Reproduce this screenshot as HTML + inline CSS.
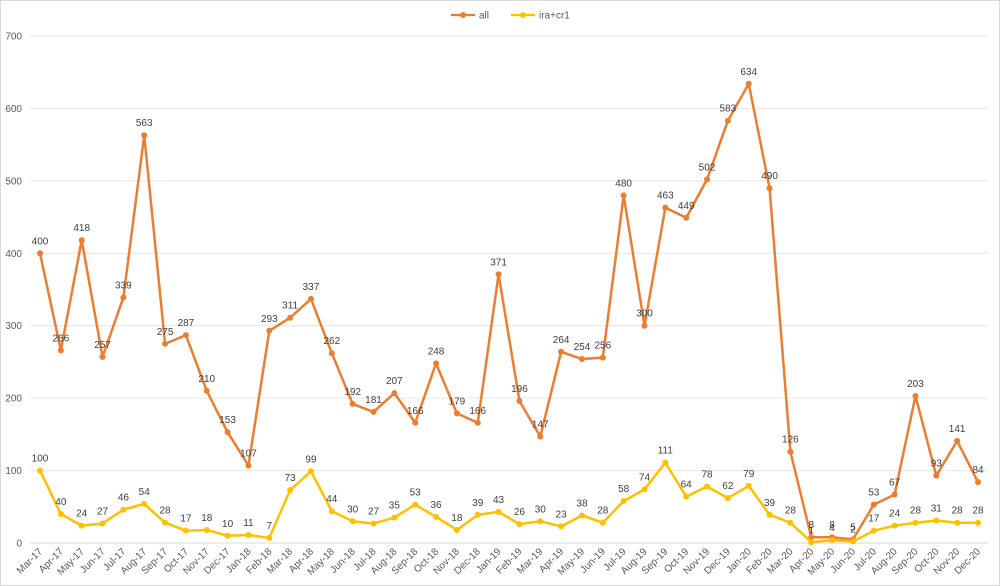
<!DOCTYPE html>
<html><head><meta charset="utf-8">
<style>
body{margin:0;background:#fff;}
svg{display:block;font-family:"Liberation Sans",sans-serif;}
</style></head>
<body>
<svg id="chart" width="1000" height="586" viewBox="0 0 1000 586">
<rect x="0.5" y="0.5" width="999" height="585" fill="#fff" stroke="#d9d9d9"/>
<g id="grid"></g>
<g id="yticks"></g>
<g id="xticks"></g>
<g id="series"></g>
<g>
<g>
<line x1="451" y1="15" x2="475" y2="15" stroke="#ed7d31" stroke-width="2.2"/>
<circle cx="463" cy="15" r="3" fill="#ed7d31"/>
<text x="479" y="18.5" font-size="10" fill="#595959">all</text>
</g>
<g>
<line x1="511" y1="15" x2="535" y2="15" stroke="#ffc000" stroke-width="2.2"/>
<circle cx="523" cy="15" r="3" fill="#ffc000"/>
<text x="539" y="18.5" font-size="10" fill="#595959">ira+cr1</text>
</g>
</g>
</svg>
<script>
const categories=["Mar-17","Apr-17","May-17","Jun-17","Jul-17","Aug-17","Sep-17","Oct-17","Nov-17","Dec-17","Jan-18","Feb-18","Mar-18","Apr-18","May-18","Jun-18","Jul-18","Aug-18","Sep-18","Oct-18","Nov-18","Dec-18","Jan-19","Feb-19","Mar-19","Apr-19","May-19","Jun-19","Jul-19","Aug-19","Sep-19","Oct-19","Nov-19","Dec-19","Jan-20","Feb-20","Mar-20","Apr-20","May-20","Jun-20","Jul-20","Aug-20","Sep-20","Oct-20","Nov-20","Dec-20"];
const allValues=[400,266,418,257,339,563,275,287,210,153,107,293,311,337,262,192,181,207,166,248,179,166,371,196,147,264,254,256,480,300,463,449,502,583,634,490,126,8,8,5,53,67,203,93,141,84];
const iraValues=[100,40,24,27,46,54,28,17,18,10,11,7,73,99,44,30,27,35,53,36,18,39,43,26,30,23,38,28,58,74,111,64,78,62,79,39,28,1,4,2,17,24,28,31,28,28];
const yTicks=[0,100,200,300,400,500,600,700];
const NS="http://www.w3.org/2000/svg";
const x0=40,x1=978,yZero=543,yTop=36,yMax=700;
function xs(i){return x0+(x1-x0)*i/(categories.length-1);}
function ys(v){return yZero-(yZero-yTop)*v/yMax;}
function mk(tag,attrs,parent){const e=document.createElementNS(NS,tag);for(const k in attrs)e.setAttribute(k,attrs[k]);parent.appendChild(e);return e;}
const grid=document.getElementById('grid'),yt=document.getElementById('yticks'),xt=document.getElementById('xticks'),ser=document.getElementById('series');
yTicks.forEach(t=>{
  const l=mk('line',{x1:30,x2:988,y1:ys(t),y2:ys(t),stroke:t===0?'#d9d9d9':'#e6e6e6','stroke-width':1},grid);
  
  
  const tx=mk('text',{x:22,y:ys(t)+3.5,'text-anchor':'end','font-size':10,fill:'#595959'},yt);
  tx.textContent=t;
  
  
});
categories.forEach((c,i)=>{
  const tx=mk('text',{x:xs(i)+3,y:552,'text-anchor':'end','font-size':10,fill:'#595959',transform:'rotate(-45 '+(xs(i)+3)+' 552)'},xt);
  tx.textContent=c;
  
  
});
function drawSeries(vals,color,name){
  const g=mk('g',{},ser);
  
  
  const pl=mk('polyline',{points:vals.map((v,i)=>xs(i)+','+ys(v)).join(' '),fill:'none',stroke:color,'stroke-width':2.5,'stroke-linejoin':'round'},g);
  
  
  vals.forEach((v,i)=>{
    const c=mk('circle',{cx:xs(i),cy:ys(v),r:3,fill:color},g);
    
    
    const t=mk('text',{x:xs(i),y:ys(v)-9,'text-anchor':'middle','font-size':10,fill:'#404040'},g);
    t.textContent=v;
    
    
  });
}
drawSeries(allValues,'#ed7d31','all');
drawSeries(iraValues,'#ffc000','ira-cr1');
</script>
</body></html>
